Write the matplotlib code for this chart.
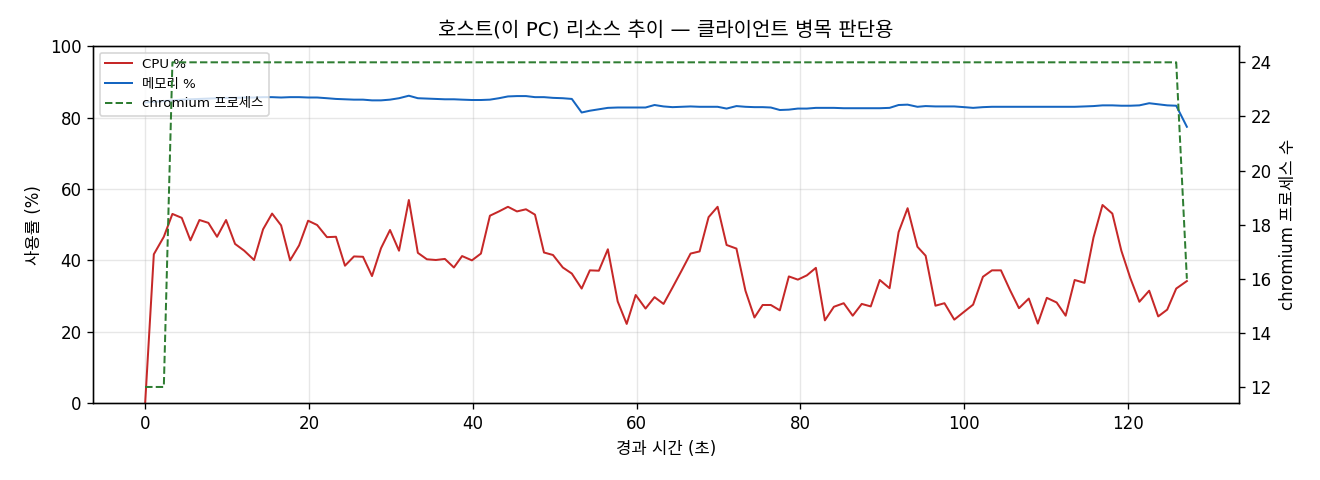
import matplotlib
matplotlib.use("Agg")
import matplotlib.pyplot as plt

plt.rcParams['font.family'] = ['DejaVu Sans', 'Noto Sans CJK KR']

# elapsed seconds per sample
elapsed = [0.0, 1.06, 2.28, 3.33, 4.47, 5.53, 6.63, 7.72, 8.78, 9.88,
           10.98, 12.1, 13.3, 14.4, 15.5, 16.6, 17.7, 18.8, 19.9, 21.0,
           22.2, 23.3, 24.4, 25.5, 26.6, 27.7, 28.8, 29.9, 31.0, 32.2,
           33.3, 34.4, 35.5, 36.6, 37.7, 38.7, 39.9, 41.0, 42.1, 43.2,
           44.3, 45.4, 46.5, 47.6, 48.7, 49.8, 51.0, 52.1, 53.3, 54.3,
           55.4, 56.5, 57.7, 58.8, 59.9, 61.1, 62.2, 63.3, 64.4, 65.5,
           66.6, 67.7, 68.8, 69.9, 71.0, 72.2, 73.3, 74.4, 75.4, 76.4,
           77.5, 78.6, 79.7, 80.8, 81.9, 83.0, 84.1, 85.3, 86.4, 87.5,
           88.6, 89.7, 90.9, 92.0, 93.1, 94.3, 95.3, 96.5, 97.6, 98.8,
           100.0, 101.1, 102.3, 103.4, 104.5, 105.6, 106.7, 107.9, 109.0, 110.1,
           111.3, 112.4, 113.5, 114.7, 115.8, 116.9, 118.1, 119.2, 120.3, 121.4,
           122.6, 123.7, 124.8, 125.9, 127.2]

cpu = [0.0, 41.7, 46.6, 53.0, 51.9, 45.6, 51.3, 50.5, 46.6, 51.3,
       44.6, 42.7, 40.1, 48.7, 53.1, 49.8, 40.0, 44.2, 51.1, 49.9,
       46.5, 46.6, 38.5, 41.1, 41.0, 35.6, 43.4, 48.5, 42.7, 56.9,
       42.1, 40.3, 40.1, 40.4, 38.0, 41.2, 40.0, 41.9, 52.5, 53.7,
       55.0, 53.7, 54.3, 52.8, 42.2, 41.5, 38.0, 36.3, 32.1, 37.2,
       37.1, 43.1, 28.5, 22.2, 30.3, 26.5, 29.7, 27.8, 32.4, 37.1,
       41.9, 42.5, 52.1, 55.0, 44.3, 43.3, 31.5, 24.0, 27.5, 27.5,
       26.0, 35.5, 34.6, 35.8, 37.9, 23.2, 27.0, 28.0, 24.5, 27.8,
       27.1, 34.5, 32.2, 47.9, 54.6, 43.8, 41.3, 27.3, 28.0, 23.4,
       25.6, 27.6, 35.4, 37.2, 37.2, 31.7, 26.6, 29.3, 22.3, 29.5,
       28.2, 24.5, 34.5, 33.7, 46.4, 55.5, 53.1, 42.7, 35.0, 28.4,
       31.5, 24.3, 26.2, 32.1, 34.2]

memory = [84.2, 84.4, 84.6, 84.8, 85.0, 85.1, 85.2, 85.3, 85.4, 85.5,
          85.5, 85.6, 85.6, 85.7, 85.7, 85.6, 85.7, 85.7, 85.6, 85.6,
          85.4, 85.2, 85.1, 85.0, 85.0, 84.8, 84.8, 85.0, 85.4, 86.1,
          85.4, 85.3, 85.2, 85.1, 85.1, 85.0, 84.9, 84.9, 85.0, 85.4,
          85.9, 86.0, 86.0, 85.7, 85.7, 85.5, 85.4, 85.2, 81.4, 81.9,
          82.3, 82.7, 82.8, 82.8, 82.8, 82.8, 83.5, 83.1, 82.9, 83.0,
          83.1, 83.0, 83.0, 83.0, 82.5, 83.2, 83.0, 82.9, 82.9, 82.8,
          82.1, 82.2, 82.5, 82.5, 82.7, 82.7, 82.7, 82.6, 82.6, 82.6,
          82.6, 82.6, 82.7, 83.5, 83.6, 83.0, 83.2, 83.1, 83.1, 83.1,
          82.9, 82.7, 82.9, 83.0, 83.0, 83.0, 83.0, 83.0, 83.0, 83.0,
          83.0, 83.0, 83.0, 83.1, 83.2, 83.4, 83.4, 83.3, 83.3, 83.4,
          84.0, 83.7, 83.4, 83.3, 77.4]

chromium = [12, 12, 12] + [24] * 110 + [24, 16]

fig, ax1 = plt.subplots(figsize=(11, 4), dpi=120)
ax2 = ax1.twinx()

l1, = ax1.plot(elapsed, cpu, color='#c62828', lw=1.2, label='CPU %')
l2, = ax1.plot(elapsed, memory, color='#1565c0', lw=1.2, label='메모리 %')
l3, = ax2.plot(elapsed, chromium, color='#2e7d32', lw=1.2, ls='--', label='chromium 프로세스')

ax1.set_ylim(0, 100)
ax1.set_xlabel('경과 시간 (초)')
ax1.set_ylabel('사용률 (%)')
ax2.set_ylabel('chromium 프로세스 수')
ax1.grid(True, alpha=0.3)
ax1.set_title('호스트(이 PC) 리소스 추이 — 클라이언트 병목 판단용')
ax1.legend(handles=[l1, l2, l3], loc='upper left', fontsize=8)

plt.subplots_adjust(left=0.0705, right=0.9386, top=0.904, bottom=0.16)
plt.savefig('out.png')
